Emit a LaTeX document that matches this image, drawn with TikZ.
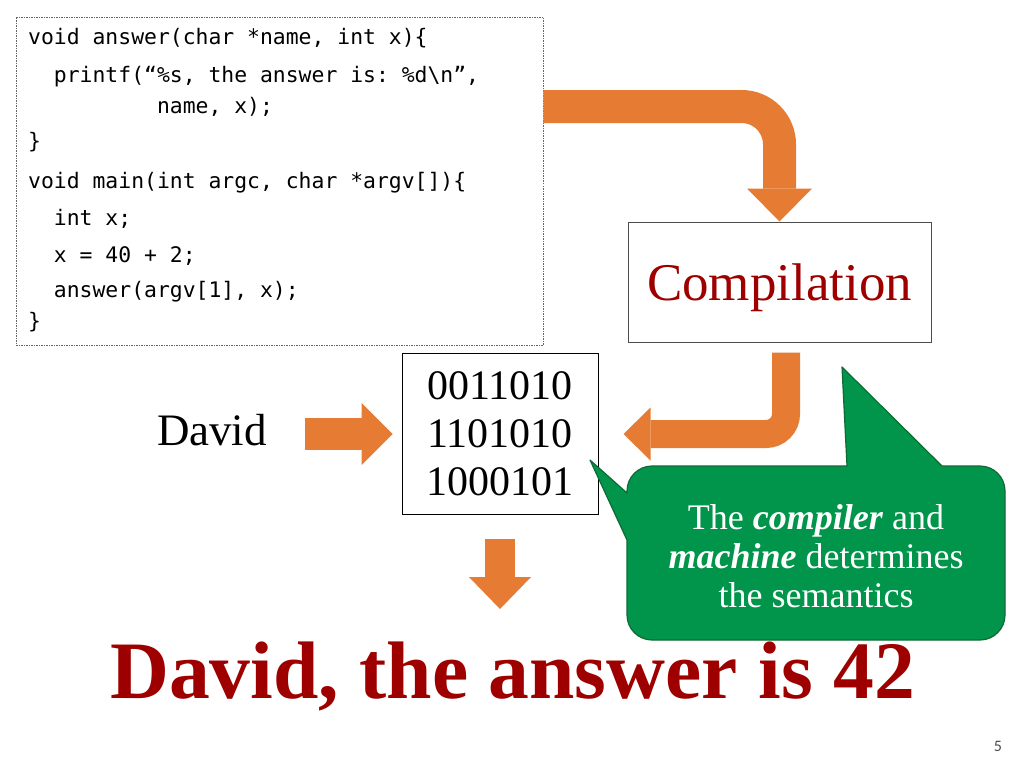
\documentclass[tikz,border=0pt]{standalone}
\usepackage{fontspec}
\setmainfont{Liberation Serif}
\setmonofont{DejaVu Sans Mono}
\newfontfamily\slidenum{Carlito}
\usepackage{xcolor}
\usetikzlibrary{positioning, arrows.meta}
\definecolor{arroworange}{HTML}{E67C34}
\definecolor{titlered}{HTML}{9E0000}
\definecolor{notegreen}{HTML}{00954A}
\definecolor{noteedge}{HTML}{0E6B35}
\tikzstyle{codebox} = [rectangle, draw=gray!80!black, dash pattern=on 1.5pt off 1pt, line width=0.9pt, minimum width=527pt, minimum height=328pt]
\tikzstyle{codeline} = [anchor=base west, inner sep=0pt, font=\ttfamily\fontsize{21.4}{24}\selectfont]
\tikzstyle{process} = [rectangle, line width=1pt, text centered]
\tikzstyle{fat} = [draw=arroworange, line cap=butt]
\tikzstyle{callout} = [fill=notegreen, draw=noteedge, line width=1.2pt, line join=round]

\begin{document}
\begin{tikzpicture}[x=1pt, y=-1pt]
    \useasboundingbox (0,0) rectangle (1024,768);
    \fill[white] (0,0) rectangle (1024,768);

    \node (code) [codebox] at (279.5,181) {};
    \foreach \y/\t [count=\i] in {45/{void answer(char *name, int x)\{},
        82/{\phantom{xx}printf(“\%s, the answer is: \%d\textbackslash n”,},
        113/{\phantom{xxxxxxxxxx}name, x);},
        148/{\}},
        188/{void main(int argc, char *argv[])\{},
        225/{\phantom{xx}int x;},
        262/{\phantom{xx}x = 40 + 2;},
        297/{\phantom{xx}answer(argv[1], x);},
        328/{\}}}
        \node (cl\i) [codeline] at (28,\y) {\t};

    \node (comp) [process, draw=black!70, minimum width=303pt, minimum height=120pt, text depth=0pt, text=titlered, font=\fontsize{53}{60}\selectfont] at (779.5,282) {Compilation};
    \node (bits) [process, draw=black, minimum width=196pt, minimum height=161pt, align=center, font=\fontsize{42}{48}\selectfont] at (500,434) {0011010\\1101010\\1000101};
    \node (david) [inner sep=0pt, font=\fontsize{45}{50}\selectfont] at (212,430) {David};
    \node (result) [anchor=base, inner sep=0pt, text=titlered, font=\bfseries\fontsize{81.6}{90}\selectfont] at (512.5,698) {David, the answer is 42};
    \node (pnum) [text=black!70, font=\slidenum\fontsize{16}{18}\selectfont] at (998,746) {5};

    \coordinate (toprow) at (0,106.5);
    \path ([xshift=6.5pt]comp.south) coordinate (c2);
    \path (david.east |- bits.west) coordinate (d1);

    \draw[fat, line width=33pt, rounded corners=38pt, -{Triangle[length=33pt, width=65pt, line width=0pt]}] (code.east |- toprow) -- (comp.north |- toprow) -- (comp.north);
    \draw[fat, line width=28pt, rounded corners=20pt, -{Triangle[length=27pt, width=53pt, line width=0pt]}] ([yshift=-10pt]c2) -- (c2 |- bits.east) -- ([xshift=25pt]bits.east);
    \draw[fat, line width=32pt, -{Triangle[length=31pt, width=62pt, line width=0pt]}] ([xshift=38pt]d1) -- ([xshift=-9pt]bits.west);
    \draw[fat, line width=30pt, -{Triangle[length=32pt, width=62pt, line width=0pt]}] ([yshift=-24pt]bits.south) -- ([yshift=-94pt]bits.south);

    % speech bubble with two tails
    \draw[callout] (652,466) -- (847,466) -- (842,367) -- (942,466) -- (980,466)
        .. controls (993.8,466) and (1005,477.2) .. (1005,491) -- (1005,615)
        .. controls (1005,628.8) and (993.8,640) .. (980,640) -- (652,640)
        .. controls (638.2,640) and (627,628.8) .. (627,615) -- (627,540)
        -- (590,460) -- (627,493) -- (627,491)
        .. controls (627,477.2) and (638.2,466) .. (652,466) -- cycle;
    \node (note) [text=white, align=center, font=\fontsize{36}{39}\selectfont] at (816,556) {The \textbf{\textit{compiler}} and\\\textbf{\textit{machine}} determines\\the semantics};

\end{tikzpicture}
\end{document}
